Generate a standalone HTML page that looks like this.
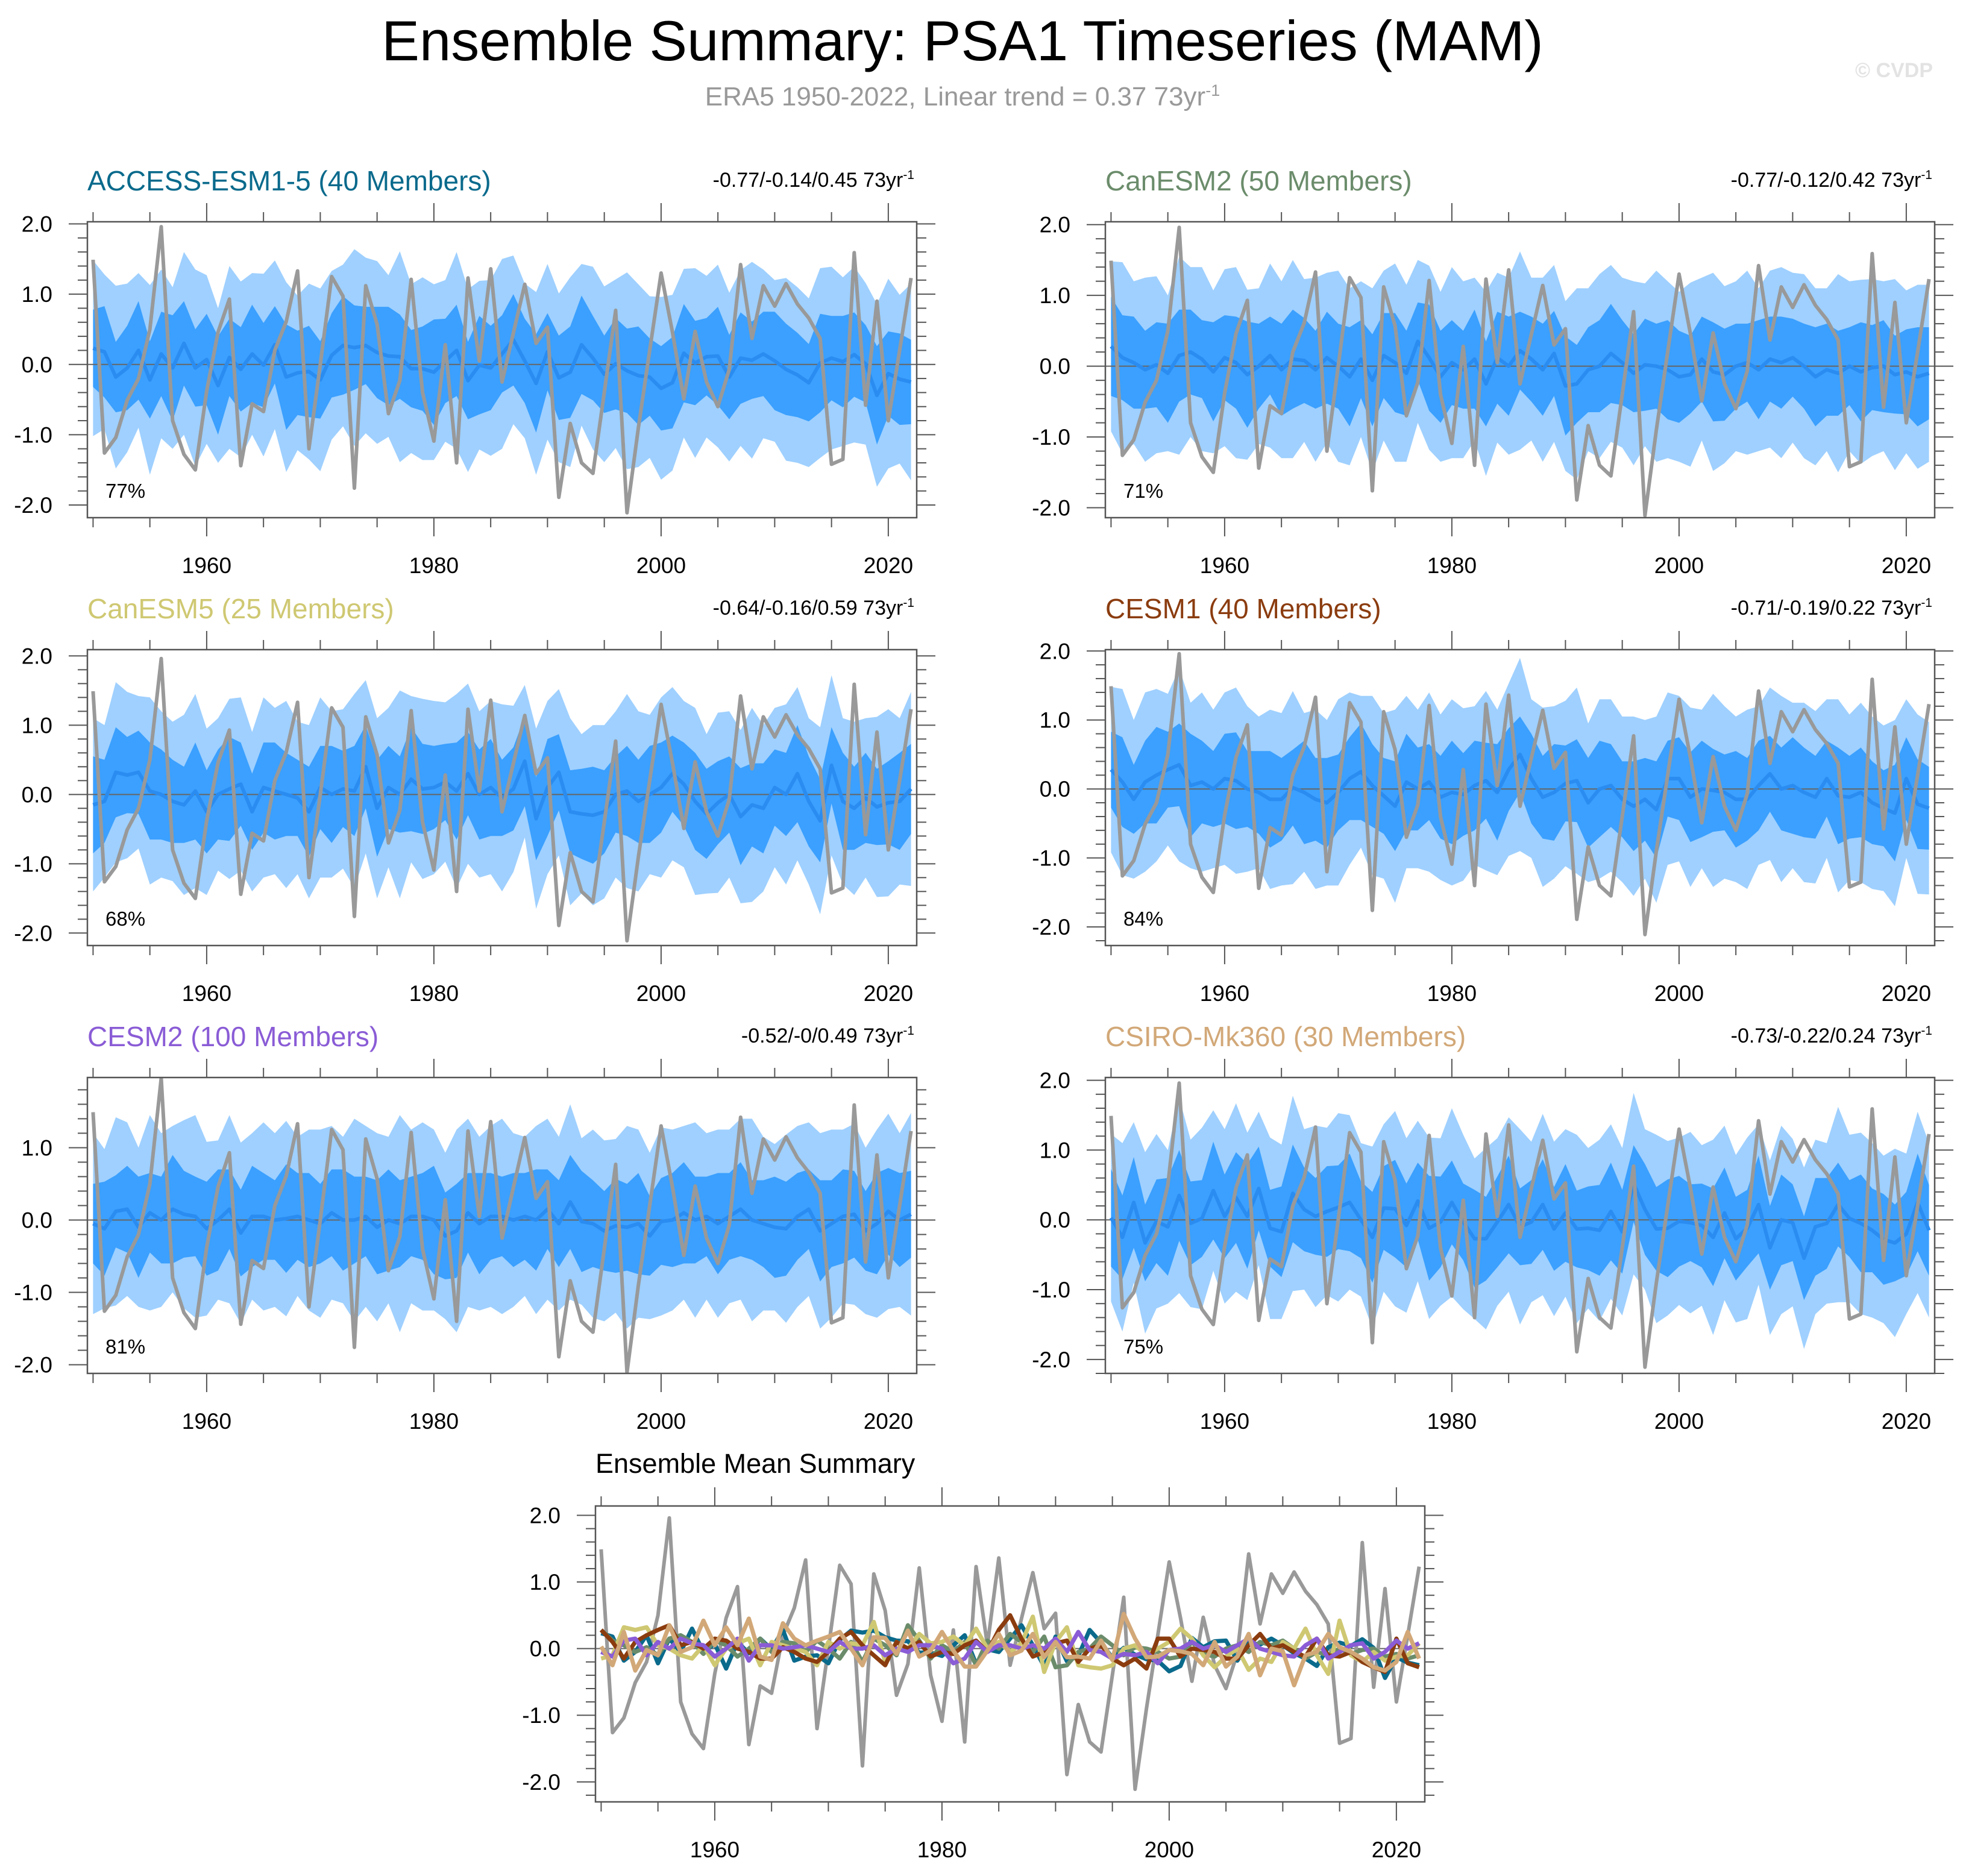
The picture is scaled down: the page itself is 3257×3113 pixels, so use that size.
<!DOCTYPE html>
<html><head><meta charset="utf-8"><style>
html,body{margin:0;padding:0;background:#fff;}
svg{display:block;font-family:"Liberation Sans",Arial,sans-serif;}
</style></head><body>
<svg id="c" width="3257" height="3113" viewBox="0 0 3257 3113" xmlns="http://www.w3.org/2000/svg">
<text x="1597" y="100" font-size="94" text-anchor="middle" fill="#000">Ensemble Summary: PSA1 Timeseries (MAM)</text>
<text x="1597" y="175" font-size="44" text-anchor="middle" fill="#999">ERA5 1950-2022, Linear trend = 0.37 73yr<tspan dy="-16" font-size="27">-1</tspan></text>
<text x="3207" y="128" font-size="34" font-weight="bold" text-anchor="end" fill="#e3e3e3">© CVDP</text>
<g id="plots"></g>
</svg>
<script>
const years=[];for(let y=1950;y<=2022;y++)years.push(y);
const era5=[1.49,-1.26,-1.04,-0.51,-0.2,0.5,1.96,-0.80,-1.28,-1.50,-0.38,0.46,0.93,-1.44,-0.56,-0.67,0.2,0.61,1.33,-1.20,0.0,1.25,0.97,-1.76,1.12,0.57,-0.70,-0.23,1.21,-0.40,-1.09,0.28,-1.40,1.23,0.05,1.36,-0.25,0.45,1.14,0.30,0.53,-1.89,-0.84,-1.40,-1.55,-0.4,0.77,-2.11,-0.9,0.2,1.30,0.46,-0.49,0.47,-0.25,-0.60,-0.07,1.42,0.37,1.12,0.83,1.15,0.86,0.66,0.37,-1.42,-1.35,1.59,-0.58,0.90,-0.80,0.2,1.23];
const meanAccess=[0.23,0.18,-0.18,-0.05,0.2,-0.22,0.15,-0.05,0.3,-0.05,0.07,-0.3,0.1,-0.07,0.15,-0.01,0.28,-0.18,-0.12,-0.1,-0.22,0.13,0.27,0.24,0.27,0.17,0.12,0.11,-0.06,-0.06,-0.11,0.05,0.2,-0.23,-0.01,-0.05,0.15,0.35,0.05,-0.27,0.18,-0.19,-0.11,0.28,0.09,-0.14,0.01,-0.09,-0.16,-0.18,-0.34,-0.26,0.16,0.02,0.11,0.12,-0.18,0.09,0.06,0.15,0.05,-0.07,-0.15,-0.26,0.02,0.09,0.04,0.14,0.01,-0.44,-0.13,-0.21,-0.25];
const meanCanESM2=[0.28,0.12,0.05,-0.05,0.02,-0.1,0.15,0.2,0.1,-0.08,0.12,0.05,-0.12,0.0,0.15,-0.05,0.1,0.08,-0.05,0.12,0.0,-0.15,0.1,-0.2,0.15,0.05,-0.1,0.35,0.12,-0.15,0.05,-0.05,0.1,-0.25,0.12,0.0,0.22,0.1,-0.05,0.18,-0.28,-0.25,-0.05,0.0,0.18,0.05,-0.1,0.02,0.0,-0.05,-0.15,-0.12,0.1,-0.08,-0.12,0.0,0.05,-0.05,0.1,0.05,0.12,0.0,-0.15,-0.05,-0.1,0.0,-0.08,-0.02,0.0,-0.12,-0.08,-0.15,-0.1];
const meanCanESM5=[-0.15,-0.1,0.32,0.28,0.32,0.05,0.0,-0.1,-0.15,0.05,-0.25,0.0,0.08,0.15,-0.25,0.1,0.05,0.0,-0.05,-0.25,0.1,0.0,0.08,0.05,0.4,-0.2,0.1,0.0,0.22,0.08,0.1,0.18,0.05,0.3,0.0,0.1,-0.05,0.08,0.48,-0.35,0.1,0.32,-0.25,-0.28,-0.3,-0.25,0.0,0.05,-0.1,0.0,0.1,0.3,0.15,-0.1,-0.28,-0.12,0.0,-0.32,-0.15,-0.2,0.1,0.0,0.3,-0.1,-0.38,0.42,-0.1,-0.2,-0.05,-0.18,-0.12,-0.1,0.08];
const meanCESM1=[0.28,0.1,-0.15,0.1,0.2,0.28,0.35,0.05,0.1,0.0,0.15,0.12,0.0,-0.05,-0.15,-0.15,0.02,-0.05,-0.15,-0.2,-0.05,0.15,0.25,0.05,-0.1,-0.25,0.1,0.0,0.1,-0.12,-0.05,-0.08,0.05,0.12,-0.05,0.28,0.5,0.15,-0.12,-0.05,0.08,0.12,-0.2,0.0,0.05,-0.15,-0.25,-0.15,-0.3,0.15,0.15,-0.12,0.0,-0.02,-0.05,-0.15,-0.15,0.05,0.22,0.0,0.05,-0.05,-0.12,0.15,-0.1,-0.12,-0.05,-0.2,-0.28,-0.35,0.15,-0.22,-0.28];
const meanCESM2=[-0.05,-0.12,0.12,0.15,-0.1,0.1,0.0,0.15,0.08,0.05,-0.12,0.0,0.15,-0.18,0.05,0.05,0.0,0.02,0.05,0.0,-0.05,0.1,0.0,0.0,0.05,-0.1,0.0,-0.05,0.05,0.05,0.0,-0.22,-0.15,0.1,-0.05,0.05,0.05,0.0,0.05,0.0,0.15,-0.05,0.25,-0.02,-0.05,-0.15,-0.08,-0.1,-0.05,-0.22,-0.02,0.0,0.1,0.0,0.05,-0.05,0.05,0.15,0.0,-0.05,-0.1,-0.12,0.05,0.15,-0.15,-0.05,0.05,0.08,-0.15,-0.05,0.12,0.0,0.08];
const meanCSIRO=[0.03,-0.25,0.25,-0.33,-0.02,-0.1,0.35,-0.05,0.02,0.42,0.05,0.32,0.05,0.45,-0.12,-0.17,0.38,0.15,0.05,0.12,0.18,0.25,0.0,-0.25,0.17,0.16,-0.08,0.27,-0.12,-0.03,0.25,-0.03,-0.27,-0.27,-0.03,0.22,-0.1,-0.03,0.22,-0.13,0.1,-0.13,-0.12,-0.15,0.12,-0.17,0.52,0.15,-0.13,-0.12,-0.02,-0.04,-0.08,-0.25,0.1,-0.27,-0.12,0.22,-0.4,0.0,-0.04,-0.55,-0.1,-0.05,0.22,0.02,-0.05,-0.15,-0.28,-0.33,-0.2,0.25,-0.15];
const innerA=[0.55,0.65,0.5,0.6,0.7,0.55,0.6,0.75,0.6,0.55,0.65,0.7,0.55,0.6,0.7,0.6,0.55,0.75,0.6,0.65,0.55,0.6,0.7,0.6,0.55,0.65,0.7,0.6,0.55,0.6,0.75,0.6,0.65,0.55,0.7,0.6,0.55,0.65,0.6,0.7,0.55,0.6,0.65,0.7,0.6,0.55,0.65,0.6,0.7,0.55,0.6,0.65,0.7,0.6,0.55,0.7,0.6,0.65,0.55,0.6,0.7,0.65,0.6,0.55,0.7,0.6,0.65,0.6,0.55,0.7,0.6,0.65,0.6];
const outerA=[1.25,1.1,1.3,1.2,1.1,1.35,1.2,1.15,1.3,1.4,1.2,1.1,1.3,1.25,1.15,1.3,1.2,1.35,1.1,1.25,1.3,1.2,1.15,1.4,1.25,1.3,1.15,1.5,1.2,1.3,1.25,1.15,1.4,1.3,1.2,1.25,1.35,1.2,1.1,1.3,1.25,1.2,1.35,1.15,1.3,1.25,1.2,1.4,1.3,1.15,1.3,1.25,1.2,1.35,1.15,1.3,1.2,1.25,1.4,1.2,1.15,1.3,1.25,1.2,1.35,1.3,1.2,1.25,1.15,1.3,1.35,1.2,1.4];
const innerB=[0.7,0.6,0.65,0.55,0.6,0.7,0.65,0.6,0.55,0.7,0.6,0.65,0.75,0.6,0.55,0.65,0.7,0.6,0.55,0.65,0.6,0.7,0.55,0.65,0.6,0.7,0.6,0.55,0.75,0.65,0.6,0.55,0.7,0.6,0.65,0.7,0.55,0.6,0.65,0.6,0.7,0.55,0.6,0.65,0.7,0.6,0.55,0.65,0.6,0.7,0.65,0.55,0.6,0.7,0.65,0.6,0.55,0.7,0.6,0.65,0.55,0.6,0.7,0.65,0.6,0.55,0.7,0.6,0.65,0.55,0.6,0.7,0.65];
const outerB=[1.2,1.35,1.15,1.3,1.25,1.1,1.4,1.2,1.3,1.15,1.25,1.35,1.2,1.1,1.3,1.25,1.4,1.15,1.3,1.2,1.35,1.25,1.1,1.3,1.2,1.4,1.25,1.15,1.3,1.2,1.35,1.25,1.15,1.3,1.2,1.25,1.4,1.15,1.3,1.25,1.2,1.35,1.15,1.3,1.25,1.2,1.3,1.15,1.35,1.25,1.2,1.3,1.15,1.4,1.25,1.2,1.3,1.15,1.25,1.35,1.2,1.3,1.25,1.15,1.4,1.2,1.3,1.25,1.2,1.35,1.15,1.3,1.25];
const panels=[
 {name:'ACCESS-ESM1-5 (40 Members)',color:'#0a6a8c',trend:'-0.77/-0.14/0.45 73yr',pct:'77%',mean:meanAccess,inner:innerA,outer:outerA,x:145,y:368,ymin:-2.18,ymax:2.03},
 {name:'CanESM2 (50 Members)',color:'#6b8c6b',trend:'-0.77/-0.12/0.42 73yr',pct:'71%',mean:meanCanESM2,inner:innerB,outer:outerB,x:1834,y:368,ymin:-2.14,ymax:2.04},
 {name:'CanESM5 (25 Members)',color:'#cfc872',trend:'-0.64/-0.16/0.59 73yr',pct:'68%',mean:meanCanESM5,inner:innerB,outer:outerA,x:145,y:1078,ymin:-2.18,ymax:2.09},
 {name:'CESM1 (40 Members)',color:'#8b3c0f',trend:'-0.71/-0.19/0.22 73yr',pct:'84%',mean:meanCESM1,inner:innerA,outer:outerB,x:1834,y:1078,ymin:-2.27,ymax:2.02},
 {name:'CESM2 (100 Members)',color:'#8a5cd6',trend:'-0.52/-0/0.49 73yr',pct:'81%',mean:meanCESM2,inner:innerA,outer:outerA,x:145,y:1788,ymin:-2.12,ymax:1.97},
 {name:'CSIRO-Mk360 (30 Members)',color:'#d2a878',trend:'-0.73/-0.22/0.24 73yr',pct:'75%',mean:meanCSIRO,inner:innerB,outer:outerB,x:1834,y:1788,ymin:-2.2,ymax:2.04}
];
const NS='http://www.w3.org/2000/svg';
const root=document.getElementById('plots');
function mk(tag,attrs,parent){const e=document.createElementNS(NS,tag);for(const k in attrs)e.setAttribute(k,attrs[k]);(parent||root).appendChild(e);return e;}
const W=1376,H=491;
function axes(g,px,py,ymin,ymax){
 const xs=yr=>px+(yr-1949.5)/73*W;
 const ys=v=>py+(ymax-v)/(ymax-ymin)*H;
 return {xs,ys};
}
function frame(g,px,py,ymin,ymax,xs,ys){
 for(let yr=1950;yr<=2020;yr+=5){
  const maj=yr%20===0&&yr>=1960;const L=maj?31:16;const x=xs(yr);
  const t1=mk('line',{x1:x,x2:x,y1:py,y2:py-L,stroke:'#555','stroke-width':2},g);
  
  
  const t2=mk('line',{x1:x,x2:x,y1:py+H,y2:py+H+L,stroke:'#555','stroke-width':2},g);
  
  
  if(maj){const t=mk('text',{x:x,y:py+H+92,'font-size':37,'text-anchor':'middle',fill:'#000'},g);t.textContent=yr;
   
   }
 }
 for(let k=Math.ceil(ymin*5);k<=Math.floor(ymax*5);k++){
  const v=k/5;const maj=k%5===0;const L=maj?31:16;const y=ys(v);
  const a=mk('line',{x1:px,x2:px-L,y1:y,y2:y,stroke:'#555','stroke-width':2},g);
  
  
  const b=mk('line',{x1:px+W,x2:px+W+L,y1:y,y2:y,stroke:'#555','stroke-width':2},g);
  
  
  if(maj){const t=mk('text',{x:px-58,y:y+13,'font-size':37,'text-anchor':'end',fill:'#000'},g);t.textContent=v.toFixed(1);
   
   }
 }
}
function linePath(arr,xs,ys){return arr.map((v,i)=>(i?'L':'M')+xs(years[i]).toFixed(1)+','+ys(v).toFixed(1)).join('');}
function band(lo,hi,xs,ys){let d='';hi.forEach((v,i)=>{d+=(i?'L':'M')+xs(years[i]).toFixed(1)+','+ys(v).toFixed(1);});for(let i=lo.length-1;i>=0;i--)d+='L'+xs(years[i]).toFixed(1)+','+ys(lo[i]).toFixed(1);return d+'Z';}
panels.forEach((p,idx)=>{
 const g=mk('g',{});
 
 
 const {xs,ys}=axes(g,p.x,p.y,p.ymin,p.ymax);
 const ti=mk('text',{x:p.x,y:p.y-52,'font-size':46,fill:p.color},g);ti.textContent=p.name;
 
 
 const tr=mk('text',{x:p.x+W-4,y:p.y-58,'font-size':34,'text-anchor':'end',fill:'#000'},g);
 tr.textContent=p.trend;const sup=mk('tspan',{dy:-13,'font-size':21},tr);sup.textContent='-1';
 
 
 const clipId='clip'+idx;const cp=mk('clipPath',{id:clipId},g);mk('rect',{x:p.x,y:p.y,width:W,height:H},cp);
 const cg=mk('g',{'clip-path':'url(#'+clipId+')'},g);
 const oHi=p.mean.map((m,i)=>m+p.outer[i]),oLo=p.mean.map((m,i)=>m-p.outer[i]);
 const iHi=p.mean.map((m,i)=>m+p.inner[i]),iLo=p.mean.map((m,i)=>m-p.inner[i]);
 const ob=mk('path',{d:band(oLo,oHi,xs,ys),fill:'#9fd0ff'},cg);
 
 
 const ib=mk('path',{d:band(iLo,iHi,xs,ys),fill:'#3ba0ff'},cg);
 
 
 const z=mk('line',{x1:p.x,x2:p.x+W,y1:ys(0),y2:ys(0),stroke:'#666','stroke-width':2},cg);
 
 
 const ml=mk('path',{d:linePath(p.mean,xs,ys),fill:'none',stroke:'#2a8cf0','stroke-width':6,'stroke-linejoin':'round'},cg);
 
 
 const ol=mk('path',{d:linePath(era5,xs,ys),fill:'none',stroke:'#999','stroke-width':6,'stroke-linejoin':'round'},cg);
 
 
 const pc=mk('text',{x:p.x+30,y:p.y+H-33,'font-size':33,fill:'#000'},g);pc.textContent=p.pct;
 
 
 const bx=mk('rect',{x:p.x,y:p.y,width:W,height:H,fill:'none',stroke:'#555','stroke-width':2.5},g);
 
 
 frame(g,p.x,p.y,p.ymin,p.ymax,xs,ys);
});
// bottom summary panel
(function(){
 const px=988,py=2499,ymin=-2.30,ymax=2.14;
 const g=mk('g',{});
 
 
 const {xs,ys}=axes(g,px,py,ymin,ymax);
 const ti=mk('text',{x:px,y:2444,'font-size':45,fill:'#000'},g);ti.textContent='Ensemble Mean Summary';
 
 
 const cp=mk('clipPath',{id:'clipS'},g);mk('rect',{x:px,y:py,width:W,height:H},cp);
 const cg=mk('g',{'clip-path':'url(#clipS)'},g);
 const z=mk('line',{x1:px,x2:px+W,y1:ys(0),y2:ys(0),stroke:'#666','stroke-width':2},cg);
 
 
 const ol=mk('path',{d:linePath(era5,xs,ys),fill:'none',stroke:'#999','stroke-width':6,'stroke-linejoin':'round'},cg);
 
 
 panels.forEach(p=>{
  const l=mk('path',{d:linePath(p.mean,xs,ys),fill:'none',stroke:p.color,'stroke-width':7,'stroke-linejoin':'round'},cg);
  
  
 });
 const bx=mk('rect',{x:px,y:py,width:W,height:H,fill:'none',stroke:'#555','stroke-width':2.5},g);
 
 
 frame(g,px,py,ymin,ymax,xs,ys);
})();
</script>
</body></html>
